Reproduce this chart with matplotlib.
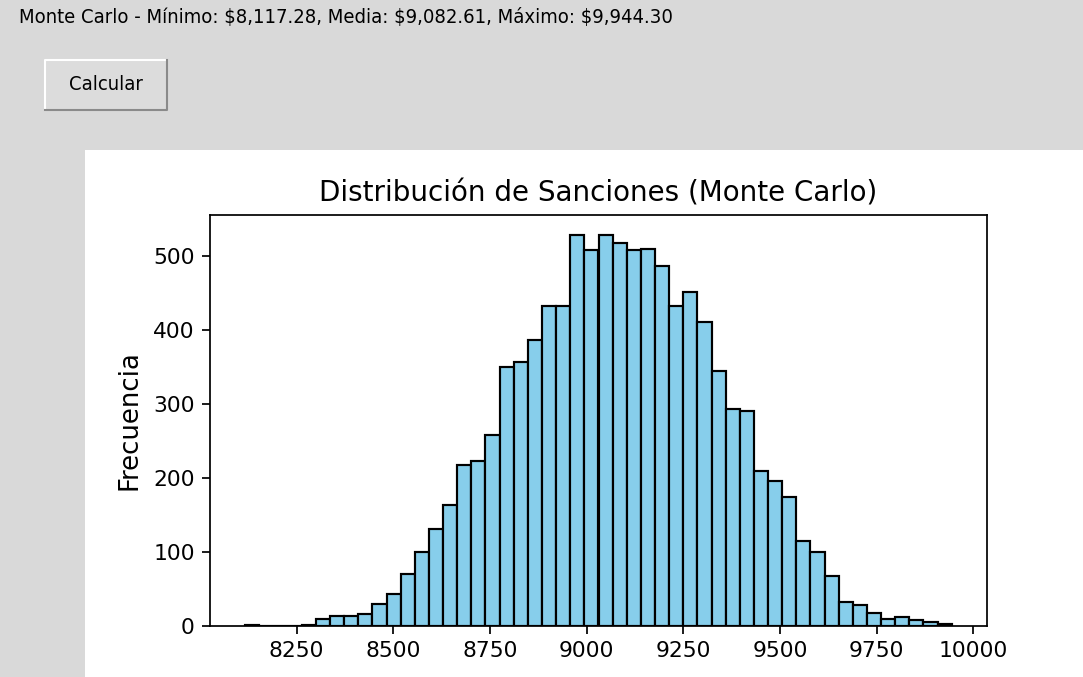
import matplotlib
matplotlib.use("Agg")
import matplotlib.pyplot as plt
from matplotlib.patches import Rectangle
from matplotlib.lines import Line2D
import numpy as np

# summary values shown in the label
val_min = 8117.28
val_mean = 9082.61
val_max = 9944.30

# counts per bin (50 bins between min and max)
counts = [2, 0, 0, 0, 2, 9, 13, 13, 16, 30,
          43, 70, 100, 131, 164, 217, 223, 258, 350, 357,
          387, 432, 432, 529, 508, 529, 518, 508, 510, 487,
          432, 452, 411, 344, 293, 290, 210, 196, 175, 115,
          100, 67, 32, 29, 18, 10, 12, 8, 5, 3]

title = "Distribución de Sanciones (Monte Carlo)"
ylabel = "Frecuencia"
button_text = "Calcular"
info_text = "Monte Carlo - Mínimo: ${:,.2f}, Media: ${:,.2f}, Máximo: ${:,.2f}".format(val_min, val_mean, val_max)

W, H = 1083, 677
s = 1.5625  # screen scale of the embedded canvas
bg = '#d9d9d9'

fig = plt.figure(figsize=(W/100, H/100), dpi=100, facecolor=bg)

def px(x, y):
    return x/W, 1 - y/H

# white matplotlib canvas
x0, y0 = px(85, 150)
fig.patches.append(Rectangle((x0, 0), 1 - x0, y0, transform=fig.transFigure,
                             facecolor='white', edgecolor='none', zorder=-5))

# top label
tx, ty = px(19, 17)
fig.text(tx, ty, info_text, fontsize=14.5, va='center', ha='left',
         family='DejaVu Sans', fontstretch='condensed', color='black')

# button with 3d border
bx0, by0 = px(45, 110)
bx1, by1 = px(167, 60)
fig.patches.append(Rectangle((bx0, by0), bx1 - bx0, by1 - by0, transform=fig.transFigure,
                             facecolor='#dcdcdc', edgecolor='none', zorder=-4))
fig.lines.append(Line2D([bx0, bx0, bx1], [by0, by1, by1], transform=fig.transFigure,
                        color='white', lw=1.5))
fig.lines.append(Line2D([bx0, bx1, bx1], [by0, by0, by1], transform=fig.transFigure,
                        color='#8a8a8a', lw=1.5))
cx, cy = px(106, 85)
fig.text(cx, cy, button_text, fontsize=14.5, ha='center', va='center',
         family='DejaVu Sans', fontstretch='condensed')

# histogram axes
l, t = px(210, 215)
r, b = px(987, 626)
ax = fig.add_axes([l, b, r - l, t - b])
edges = np.linspace(val_min, val_max, len(counts) + 1)
ax.hist(edges[:-1], bins=edges, weights=counts, color='skyblue', edgecolor='black', linewidth=1.0*s)
ax.set_title(title, fontsize=12.8*s, pad=6*s)
ax.set_ylabel(ylabel, fontsize=12*s, labelpad=5*s)
ax.tick_params(labelsize=10*s, length=3.5*s, width=0.8*s, pad=3.5*s)
for sp in ax.spines.values():
    sp.set_linewidth(0.8*s)

fig.savefig("out.png", dpi=100, facecolor=bg)
